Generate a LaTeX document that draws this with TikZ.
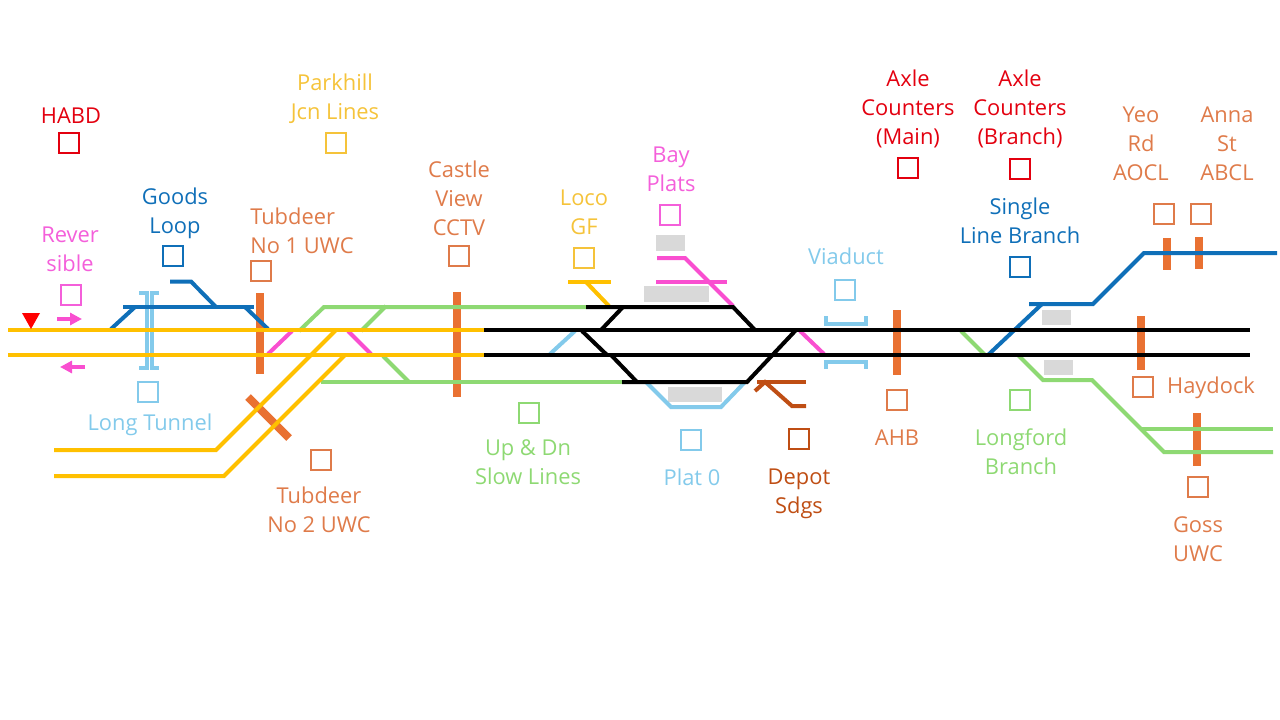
\documentclass[tikz,border=0pt]{standalone}
\usepackage{fontspec}
\setmainfont{Open Sans}
\usetikzlibrary{arrows.meta}
\definecolor{cOrange}{HTML}{E97132}
\definecolor{cOrangeT}{HTML}{DF7B4A}
\definecolor{cYellow}{HTML}{FFC000}
\definecolor{cLoco}{HTML}{F5C33A}
\definecolor{cBlue}{HTML}{0F6FB8}
\definecolor{cSky}{HTML}{83CAEB}
\definecolor{cGreen}{HTML}{8ED973}
\definecolor{cPink}{HTML}{F94FD0}
\definecolor{cPinkT}{HTML}{F45FDA}
\definecolor{cBrown}{HTML}{BF4E14}
\definecolor{cRed}{HTML}{E3000F}
\definecolor{cGrey}{HTML}{D9D9D9}
\tikzset{
  track/.style={line width=3pt,line join=miter},
  bar/.style={line width=6pt,draw=cOrange},
  grey/.style={fill=cGrey,draw=none},
  sq/.style={draw=#1,line width=1.5pt,minimum size=15pt,inner sep=0pt,fill=none},
  lbl/.style={text=#1,font=\fontsize{16.4}{21.75}\selectfont,align=center,inner sep=0pt,text height=13pt,text depth=1.3pt,yshift=-0.75pt},
}
\begin{document}
\begin{tikzpicture}[x=0.75pt,y=-0.75pt]
\useasboundingbox (0,0) rectangle (1280,720);
% platforms
\fill[grey] (656,235) rectangle (685,251);
\fill[grey] (644,286) rectangle (709,302);
\fill[grey] (668,387) rectangle (722,402);
\fill[grey] (1042,310) rectangle (1071,325);
\fill[grey] (1044,360) rectangle (1073,375);
% structures
\draw[bar] (259.5,293) -- (259.5,374);
\draw[bar] (248,397) -- (289,438);
\draw[bar] (457,292) -- (457,397);
\draw[bar] (897,310) -- (897,375);
\draw[bar] (1141,316) -- (1141,370);
\draw[bar] (1167,238) -- (1167,270);
\draw[bar] (1199,237) -- (1199,269);
\draw[bar] (1197,413) -- (1197,466);
% tunnel and viaduct
\draw[track,cSky] (139,293) -- (146.5,293) -- (146.5,368) -- (139,368);
\draw[track,cSky] (159,293) -- (152,293) -- (152,368) -- (159,368);
\draw[track,cSky] (826,316) -- (826,324) -- (866,324) -- (866,316);
\draw[track,cSky] (826,369) -- (826,362) -- (866,362) -- (866,369);
% branches
\draw[track,cSky] (550,354) -- (575,331);
\draw[track,cSky] (646,382) -- (671,407) -- (721,407) -- (745,382);
\draw[track,cGreen] (299,331) -- (324,307) -- (586,307);
\draw[track,cGreen] (361,331) -- (386,306);
\draw[track,cGreen] (321,382) -- (622,382);
\draw[track,cGreen] (383,356) -- (409,382);
\draw[track,cGreen] (961,331) -- (985,355);
\draw[track,cGreen] (1018,355) -- (1043,380) -- (1092,380) -- (1164,452) -- (1273,452);
\draw[track,cGreen] (1142,429) -- (1273,429);
\draw[track,cPink] (268,354) -- (292,331);
\draw[track,cPink] (348,331) -- (371,354);
\draw[track,cPink] (657,258) -- (685,258) -- (733,306);
\draw[track,cPink] (656,282) -- (727,282);
\draw[track,cPink] (800,331) -- (824,354);
\draw[track,cYellow] (568,282) -- (611,282);
\draw[track,cYellow] (586,282) -- (609,306);
\draw[track,cBrown] (757,382) -- (806,382);
\draw[track,cBrown] (755,391) -- (765,382) -- (792,406) -- (806,406);
\draw[track,cBlue] (111,329) -- (135,307);
\draw[track,cBlue] (123,307) -- (254,307);
\draw[track,cBlue] (170,281.5) -- (191,281.5) -- (216,307);
\draw[track,cBlue] (245,307) -- (268,329);
\draw[track,cBlue] (988,355) -- (1042,304);
\draw[track,cBlue] (1029,304) -- (1093,304) -- (1144,253) -- (1277,253);
% main lines
\draw[track,black] (484,330) -- (1250,330);
\draw[track,black] (484,355) -- (1250,355);
\draw[track,black] (586,307) -- (733,307) -- (755,330);
\draw[track,black] (623,307) -- (601,330);
\draw[track,black] (582,331) -- (607,355);
\draw[track,black] (611,355) -- (637,382);
\draw[track,black] (622,382) -- (747,382) -- (796,330);
\draw[track,cYellow] (8,330) -- (484,330);
\draw[track,cYellow] (8,355) -- (484,355);
\draw[track,cYellow] (54,450) -- (216,450) -- (336,330);
\draw[track,cYellow] (54,476) -- (224,476) -- (345,355);
% direction marks
\coordinate (ra) at (57,319); \coordinate (rb) at (82,319);
\coordinate (la) at (85,367); \coordinate (lb) at (60,367);
\draw[line width=3pt,cPink,-{Triangle[length=9pt,width=9pt]}] (ra) -- (rb);
\draw[line width=3pt,cPink,-{Triangle[length=9pt,width=9pt]}] (la) -- (lb);
\fill[red] (22,313) -- (40,313) -- (31,329) -- cycle;
% squares
\node[sq=cRed] (s1) at (69,143) {};
\node[sq=cPinkT] (s2) at (71,295) {};
\node[sq=cBlue] (s3) at (173,256) {};
\node[sq=cOrangeT] (s4) at (261,271) {};
\node[sq=cLoco] (s5) at (336,143) {};
\node[sq=cSky] (s6) at (148,392) {};
\node[sq=cOrangeT] (s7) at (321,460) {};
\node[sq=cOrangeT] (s8) at (459,256) {};
\node[sq=cGreen] (s9) at (529,413) {};
\node[sq=cLoco] (s10) at (584,258) {};
\node[sq=cPinkT] (s11) at (670,215) {};
\node[sq=cSky] (s12) at (845,290) {};
\node[sq=cSky] (s13) at (691,440) {};
\node[sq=cBrown] (s14) at (799,439) {};
\node[sq=cOrangeT] (s15) at (897,400) {};
\node[sq=cRed] (s16) at (908,168) {};
\node[sq=cRed] (s17) at (1020,169) {};
\node[sq=cBlue] (s18) at (1020,267) {};
\node[sq=cGreen] (s19) at (1020,400) {};
\node[sq=cOrangeT] (s20) at (1164,214) {};
\node[sq=cOrangeT] (s21) at (1201,214) {};
\node[sq=cOrangeT] (s22) at (1143,387) {};
\node[sq=cOrangeT] (s23) at (1198,487) {};
% labels
\node[lbl=cRed] (t1) at (71,115) {HABD};
\node[lbl=cPinkT] (t2) at (70,263) {Rever\\sible};
\node[lbl=cBlue] (t3) at (175,225) {Goods\\Loop};
\node[lbl=cOrangeT,align=left,anchor=west] (t4) at (250,245) {Tubdeer\\No 1 UWC};
\node[lbl=cLoco] (t5) at (335,111) {Parkhill\\Jcn Lines};
\node[lbl=cSky] (t6) at (150,422) {Long Tunnel};
\node[lbl=cOrangeT] (t7) at (319,524) {Tubdeer\\No 2 UWC};
\node[lbl=cOrangeT] (t8) at (459,227) {Castle\\View\\CCTV};
\node[lbl=cGreen] (t9) at (528,476) {Up \& Dn\\Slow Lines};
\node[lbl=cLoco] (t10) at (584,226) {Loco\\GF};
\node[lbl=cPinkT] (t11) at (671,183) {Bay\\Plats};
\node[lbl=cSky] (t12) at (846,256) {Viaduct};
\node[lbl=cSky] (t13) at (692,477) {Plat 0};
\node[lbl=cBrown] (t14) at (799,505) {Depot\\Sdgs};
\node[lbl=cOrangeT] (t15) at (897,437) {AHB};
\node[lbl=cRed] (t16) at (908,136) {Axle\\Counters\\(Main)};
\node[lbl=cRed] (t17) at (1020,136) {Axle\\Counters\\(Branch)};
\node[lbl=cBlue] (t18) at (1020,235) {Single\\Line Branch};
\node[lbl=cGreen] (t19) at (1021,466) {Longford\\Branch};
\node[lbl=cOrangeT] (t20) at (1141,172) {Yeo\\Rd\\AOCL};
\node[lbl=cOrangeT] (t21) at (1227,172) {Anna\\St\\ABCL};
\node[lbl=cOrangeT] (t22) at (1211,385) {Haydock};
\node[lbl=cOrangeT] (t23) at (1198,553) {Goss\\UWC};
\end{tikzpicture}
\end{document}
